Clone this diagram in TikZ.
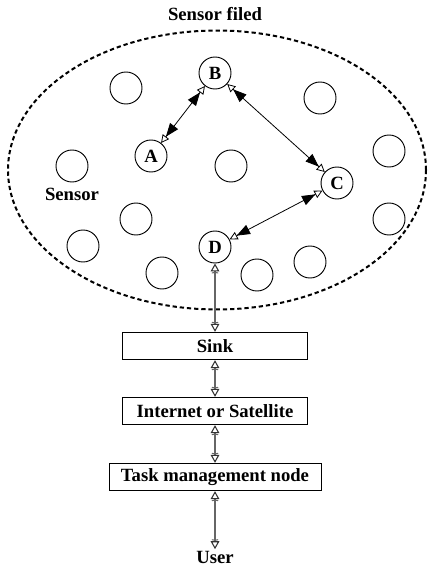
\documentclass[tikz,border=0pt]{standalone}
\usepackage{fontspec}
\setmainfont{Liberation Serif}
\usetikzlibrary{arrows.meta}
\begin{document}
\begin{tikzpicture}[x=0.75pt,y=-0.75pt,
  font=\fontsize{14}{16}\selectfont\bfseries,
  sensor/.style={circle,draw,line width=0.7pt,minimum size=24pt,inner sep=0pt},
  block/.style={draw,line width=0.7pt,minimum height=20.5pt,inner sep=0pt},
  field/.style={line width=1.5pt,dash pattern=on 3.2pt off 2.2pt},
  hop/.style={line width=0.6pt,
    {Triangle[open,length=6pt,width=6pt]Triangle[length=10pt,width=7.5pt]}-{Triangle[length=10pt,width=7.5pt]Triangle[open,length=6pt,width=6pt]}},
  uplink/.style={draw=black!60,line width=0.8pt,
    {Triangle[open,length=6pt,width=6.5pt,black!80]To[length=1.5pt,width=5pt]}-{To[length=1.5pt,width=5pt]Triangle[open,length=6pt,width=6.5pt,black!80]}}
]
\useasboundingbox (0,0) rectangle (430,570);

% sensor field boundary
\draw[field] (217,170) ellipse [x radius=156.75pt, y radius=104.6pt];
\node (title) at (215,14) {Sensor filed};
\node (lbl) at (72,194) {Sensor};

% named sensors on the routing path
\node[sensor] (B) at (215,73) {B};
\node[sensor] (A) at (151,156) {A};
\node[sensor] (C) at (337,183) {C};
\node[sensor] (D) at (215,247) {D};

% other sensors
\node[sensor] (s1) at (126,88) {};
\node[sensor] (s2) at (320,98) {};
\node[sensor] (s3) at (72,166) {};
\node[sensor] (s4) at (231,166) {};
\node[sensor] (s5) at (389,151) {};
\node[sensor] (s6) at (136,219) {};
\node[sensor] (s7) at (389,219) {};
\node[sensor] (s8) at (83,246) {};
\node[sensor] (s9) at (162,273) {};
\node[sensor] (s10) at (257,275) {};
\node[sensor] (s11) at (310,262) {};

% hops inside the field
\draw[hop] (A) -- (B);
\draw[hop] (B) -- (C);
\draw[hop] (C) -- (D);

% infrastructure chain
\node[block,minimum width=138.75pt] (sink) at (215,346) {Sink};
\node[block,minimum width=138.75pt] (net) at (215,411) {Internet or Satellite};
\node[block,minimum width=159pt] (task) at (215,477) {Task management node};
\node[inner sep=1pt] (user) at (215,557) {User};

\draw[uplink] (D) -- (sink);
\draw[uplink] (sink) -- (net);
\draw[uplink] (net) -- (task);
\draw[uplink] (task) -- (user);
\end{tikzpicture}
\end{document}
